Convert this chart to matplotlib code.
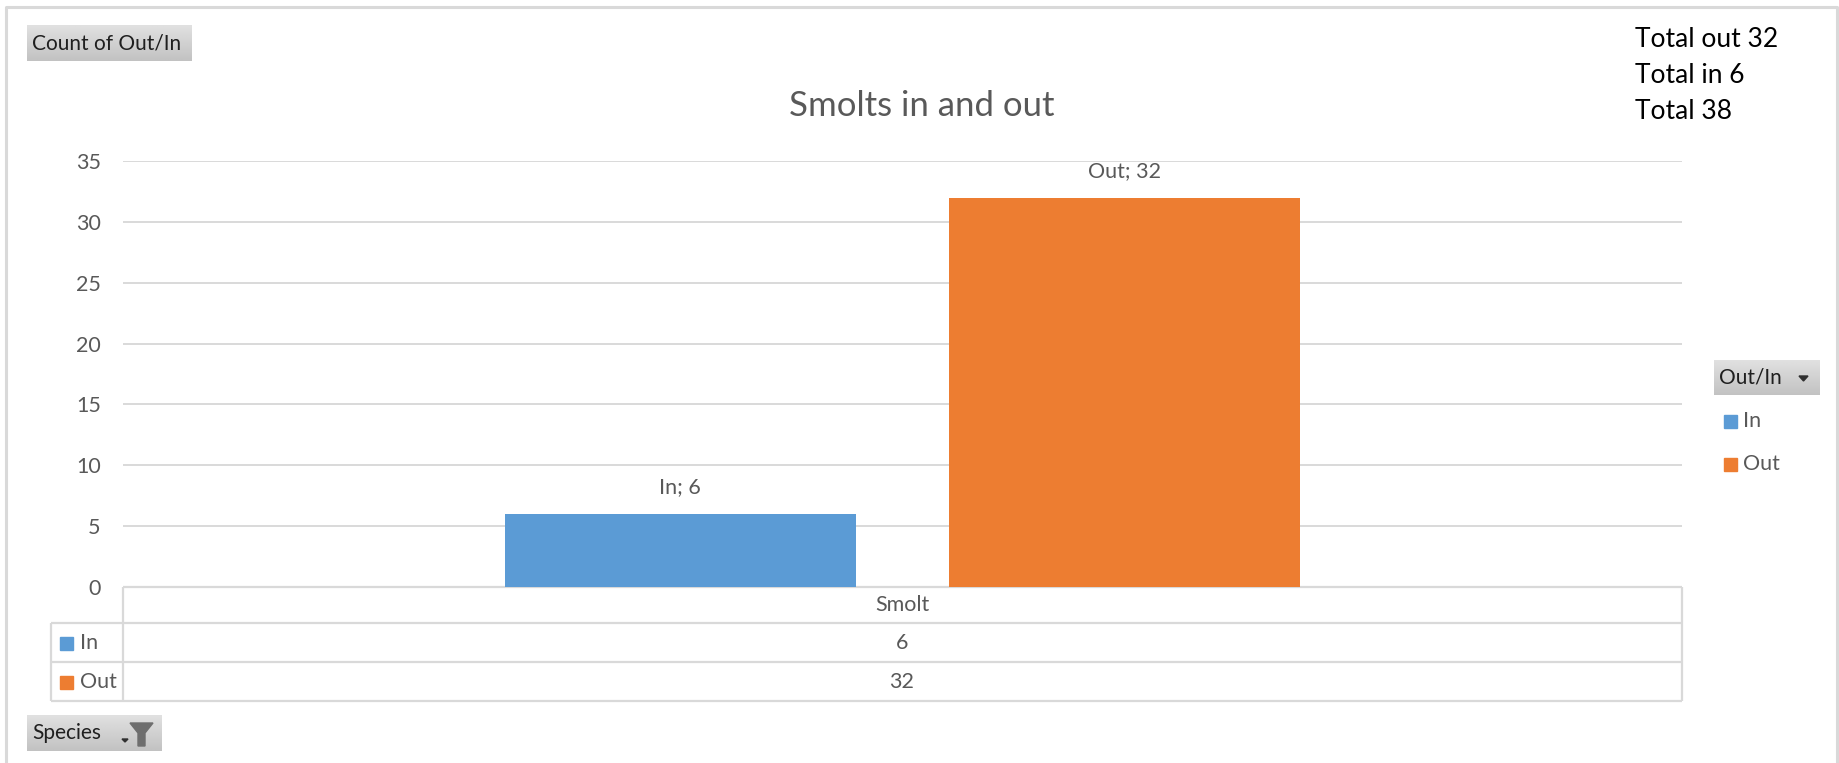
import numpy as np
import matplotlib.pyplot as plt

# data
categories = ["Smolt"]
series_names = ["In", "Out"]
in_values = [6]
out_values = [32]
y_ticks = [0, 5, 10, 15, 20, 25, 30, 35]
totals_text = ["Total out 32", "Total in 6", "Total 38"]

W, H = 1839, 763
BLUE = "#5B9BD5"
ORANGE = "#ED7D31"
GRID = "#D9D9D9"
GREY_TXT = "#595959"
FS = 15.5

plt.rcParams['font.family'] = ['Lato', 'DejaVu Sans']

fig = plt.figure(figsize=(W / 100, H / 100), dpi=100)
fig.patch.set_facecolor("white")

# overlay axes in pixel coordinates for the frame, buttons, table, legend
ov = fig.add_axes([0, 0, 1, 1], zorder=0)
ov.set_xlim(0, W)
ov.set_ylim(H, 0)
ov.axis("off")
ov.patch.set_alpha(0)


def draw_button(x0, y0, x1, y1):
    '''
    Grey gradient field button like Excel pivot charts
    '''
    grad = np.linspace(0.88, 0.76, 50).reshape(-1, 1)
    grad = np.repeat(grad, 2, axis=1)
    ov.imshow(grad, cmap="gray", vmin=0, vmax=1, extent=(x0, x1, y1, y0),
              aspect="auto", zorder=1, interpolation="bilinear")


# outer chart border
ov.plot([6, 6, 1837, 1837], [H + 5, 7, 7, H + 5], color=GRID, lw=2.2, zorder=1)

# "Count of Out/In" button
draw_button(27, 25, 192, 61)
ov.text(32, 44, "Count of Out/In", fontsize=15, color="#1F1F1F",
        ha="left", va="center", zorder=2)

# title
ov.text(922, 106, "Smolts in and out", fontsize=25, color=GREY_TXT,
        ha="center", va="center", zorder=2)

# totals text top right
for i, t in enumerate(totals_text):
    ov.text(1635, 39.5 + i * 36, t, fontsize=19, color="black",
            ha="left", va="center", zorder=2)

# legend button + entries
draw_button(1714, 360, 1820, 395)
ov.text(1719, 378, "Out/In", fontsize=15, color="#1F1F1F",
        ha="left", va="center", zorder=2)
ov.fill([1799, 1808, 1803.5], [376, 376, 381], color="#303030", zorder=2)
for name, col, yy in zip(series_names, [BLUE, ORANGE], [421, 464]):
    ov.add_patch(plt.Rectangle((1724, yy - 6.5), 13, 13, color=col, zorder=2))
    ov.text(1743, yy, name, fontsize=FS, color=GREY_TXT,
            ha="left", va="center", zorder=2)

# data table under the plot
tl = dict(color=GRID, lw=1.6, zorder=1, solid_capstyle="butt")
ov.plot([123, 1682], [587, 587], **tl)
for yy in [623, 662, 701]:
    ov.plot([51, 1682], [yy, yy], **tl)
ov.plot([51, 51], [623, 701], **tl)
ov.plot([123, 123], [587, 701], **tl)
ov.plot([1682, 1682], [587, 701], **tl)

ov.text(902, 605, categories[0], fontsize=FS, color=GREY_TXT,
        ha="center", va="center", zorder=2)
for name, col, val, yy in zip(series_names, [BLUE, ORANGE],
                              [in_values[0], out_values[0]], [643, 682]):
    ov.add_patch(plt.Rectangle((60, yy - 6.5), 13, 13, color=col, zorder=2))
    ov.text(80, yy, name, fontsize=FS, color=GREY_TXT,
            ha="left", va="center", zorder=2)
    ov.text(902, yy, str(val), fontsize=FS, color=GREY_TXT,
            ha="center", va="center", zorder=2)

# "Species" button with filter icon
draw_button(27, 715, 162, 751)
ov.text(32, 733, "Species", fontsize=15, color="#1F1F1F",
        ha="left", va="center", zorder=2)
ov.fill([122, 128, 125], [739, 739, 742], color="#303030", zorder=2)
ov.fill([130, 153, 145, 145, 138, 138], [723, 723, 733, 746, 746, 733],
        color="#6E6E6E", zorder=2)

ov.set_xlim(0, W)
ov.set_ylim(H, 0)

# main bar chart
ax = fig.add_axes([123 / W, (H - 587) / H, (1682 - 123) / W, (587 - 161) / H],
                  zorder=3)
ax.patch.set_alpha(0)

x = np.arange(len(categories))
width = 0.225
gap = 0.06
offs = [-(width + gap) / 2, (width + gap) / 2]
for name, vals, col, off in zip(series_names, [in_values, out_values],
                                [BLUE, ORANGE], offs):
    bars = ax.bar(x + off, vals, width=width, color=col, zorder=3)
    for b, v in zip(bars, vals):
        ax.annotate("%s; %d" % (name, v),
                    (b.get_x() + b.get_width() / 2, b.get_height()),
                    xytext=(0, 19), textcoords="offset points",
                    ha="center", va="center", fontsize=FS, color=GREY_TXT)

ax.set_xlim(-0.5, 0.5)
ax.set_ylim(0, 35)
ax.set_yticks(y_ticks)
ax.set_yticklabels([str(t) for t in y_ticks])
ax.set_xticks([])
ax.tick_params(axis="y", length=0, pad=16, labelsize=FS, labelcolor=GREY_TXT)
ax.grid(axis="y", color=GRID, lw=1.4, zorder=0)
for s in ax.spines.values():
    s.set_visible(False)

fig.savefig("out.png", dpi=100)
